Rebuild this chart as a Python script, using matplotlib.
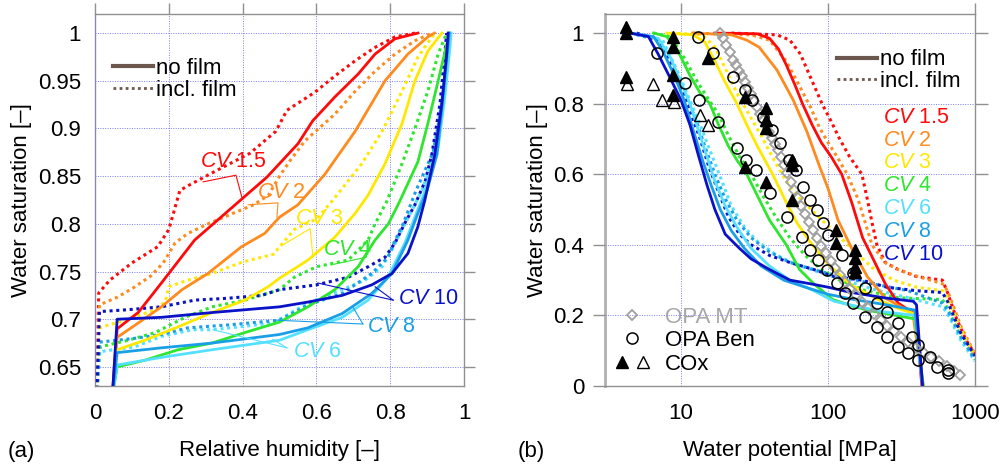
import matplotlib
matplotlib.use("Agg")
import matplotlib.pyplot as plt
from matplotlib.lines import Line2D
from matplotlib.legend_handler import HandlerTuple

plt.rcParams['font.family'] = ['Liberation Sans', 'DejaVu Sans']
plt.rcParams['mathtext.fontset'] = 'custom'
plt.rcParams['mathtext.rm'] = 'Liberation Sans'
plt.rcParams['mathtext.it'] = 'Liberation Sans:italic'

# ---- categories ----
cv_names = ['1.5', '2', '3', '4', '6', '8', '10']
cv_colors = ['#ff0a0a', '#ff8a1e', '#ffe800', '#2ee62e', '#55e0ff', '#1a9fe6', '#0a12c8']

# ---- panel (a): relative humidity vs saturation (no film / incl. film) ----
a_nf_15 = [(0.047, 0.62), (0.06, 0.69), (0.117, 0.707), (0.18, 0.738), (0.27, 0.783), (0.374, 0.818),
           (0.466, 0.849), (0.55, 0.884), (0.59, 0.908), (0.65, 0.933), (0.713, 0.957), (0.759, 0.978),
           (0.813, 0.994), (0.875, 1.0)]
a_fi_15 = [(0.005, 0.62), (0.01, 0.7275), (0.04, 0.741), (0.10, 0.759), (0.17, 0.776), (0.20, 0.794),
           (0.23, 0.835), (0.257, 0.841), (0.33, 0.856), (0.42, 0.874), (0.49, 0.897), (0.52, 0.919),
           (0.596, 0.938), (0.65, 0.955), (0.705, 0.971), (0.759, 0.985), (0.813, 0.996), (0.867, 1.0)]
a_nf_2 = [(0.047, 0.62), (0.06, 0.681), (0.117, 0.696), (0.18, 0.713), (0.236, 0.731), (0.306, 0.748),
          (0.397, 0.776), (0.46, 0.79), (0.50, 0.807), (0.55, 0.82), (0.623, 0.852), (0.705, 0.897),
          (0.786, 0.95), (0.848, 0.978), (0.902, 0.996), (0.92, 1.0)]
a_fi_2 = [(0.005, 0.62), (0.012, 0.715), (0.06, 0.723), (0.104, 0.733), (0.15, 0.745), (0.185, 0.759),
          (0.217, 0.78), (0.252, 0.79), (0.306, 0.80), (0.38, 0.812), (0.43, 0.82), (0.47, 0.83),
          (0.50, 0.85), (0.53, 0.867), (0.569, 0.887), (0.65, 0.915), (0.705, 0.939), (0.759, 0.96),
          (0.813, 0.978), (0.867, 0.992), (0.913, 1.0)]
a_nf_3 = [(0.047, 0.62), (0.06, 0.668), (0.135, 0.678), (0.225, 0.692), (0.317, 0.707), (0.406, 0.72),
          (0.469, 0.734), (0.50, 0.743), (0.577, 0.762), (0.65, 0.786), (0.705, 0.811), (0.74, 0.83),
          (0.786, 0.863), (0.832, 0.905), (0.867, 0.95), (0.902, 0.981), (0.94, 1.0)]
a_fi_3 = [(0.005, 0.62), (0.012, 0.691), (0.09, 0.70), (0.163, 0.71), (0.19, 0.718), (0.20, 0.734),
          (0.252, 0.741), (0.317, 0.748), (0.40, 0.76), (0.483, 0.768), (0.54, 0.794), (0.60, 0.805),
          (0.645, 0.825), (0.723, 0.863), (0.778, 0.897), (0.832, 0.939), (0.875, 0.975), (0.913, 0.996),
          (0.925, 1.0)]
a_nf_4 = [(0.047, 0.62), (0.06, 0.65), (0.135, 0.657), (0.225, 0.668), (0.317, 0.675), (0.406, 0.686),
          (0.50, 0.697), (0.577, 0.713), (0.65, 0.731), (0.713, 0.755), (0.759, 0.783), (0.795, 0.80),
          (0.825, 0.823), (0.875, 0.865), (0.902, 0.905), (0.93, 0.95), (0.953, 0.988), (0.962, 1.0)]
a_fi_4 = [(0.005, 0.62), (0.014, 0.671), (0.09, 0.678), (0.163, 0.686), (0.244, 0.702), (0.317, 0.713),
          (0.406, 0.72), (0.50, 0.731), (0.54, 0.744), (0.60, 0.755), (0.686, 0.762), (0.74, 0.783),
          (0.759, 0.80), (0.79, 0.823), (0.832, 0.863), (0.867, 0.90), (0.902, 0.939), (0.93, 0.978),
          (0.953, 1.0)]
a_nf_6 = [(0.047, 0.62), (0.06, 0.652), (0.18, 0.66), (0.317, 0.668), (0.50, 0.678), (0.577, 0.689),
          (0.67, 0.702), (0.74, 0.72), (0.794, 0.744), (0.84, 0.78), (0.867, 0.807), (0.89, 0.83),
          (0.93, 0.88), (0.948, 0.933), (0.962, 0.985), (0.965, 1.0)]
a_fi_6 = [(0.005, 0.62), (0.012, 0.666), (0.108, 0.671), (0.18, 0.682), (0.266, 0.689), (0.32, 0.689),
          (0.483, 0.696), (0.577, 0.717), (0.67, 0.731), (0.732, 0.741), (0.778, 0.755), (0.805, 0.773),
          (0.832, 0.794), (0.86, 0.815), (0.886, 0.835), (0.913, 0.865), (0.93, 0.905), (0.948, 0.95),
          (0.962, 1.0)]
a_nf_8 = [(0.047, 0.62), (0.06, 0.665), (0.18, 0.67), (0.317, 0.675), (0.50, 0.684), (0.577, 0.691),
          (0.67, 0.706), (0.75, 0.727), (0.805, 0.748), (0.848, 0.783), (0.875, 0.811), (0.90, 0.835),
          (0.927, 0.873), (0.943, 0.933), (0.957, 0.988), (0.96, 1.0)]
a_fi_8 = [(0.005, 0.62), (0.012, 0.676), (0.108, 0.68), (0.18, 0.684), (0.252, 0.691), (0.36, 0.694),
          (0.50, 0.699), (0.577, 0.715), (0.67, 0.727), (0.75, 0.748), (0.794, 0.765), (0.81, 0.78),
          (0.835, 0.80), (0.87, 0.835), (0.916, 0.875), (0.935, 0.91), (0.948, 0.95), (0.96, 1.0)]
a_nf_10 = [(0.047, 0.62), (0.06, 0.70), (0.18, 0.702), (0.317, 0.707), (0.50, 0.713), (0.577, 0.718),
           (0.67, 0.725), (0.75, 0.736), (0.805, 0.748), (0.848, 0.769), (0.875, 0.797), (0.894, 0.825),
           (0.921, 0.873), (0.94, 0.926), (0.953, 0.978), (0.957, 1.0)]
a_fi_10 = [(0.005, 0.62), (0.012, 0.708), (0.09, 0.71), (0.18, 0.713), (0.27, 0.72), (0.36, 0.722),
           (0.452, 0.725), (0.50, 0.731), (0.54, 0.733), (0.60, 0.736), (0.686, 0.744), (0.74, 0.755),
           (0.786, 0.765), (0.813, 0.78), (0.84, 0.801), (0.867, 0.82), (0.895, 0.845), (0.913, 0.873),
           (0.935, 0.926), (0.948, 0.978), (0.953, 1.0)]

# ---- panel (b): water potential [MPa] vs saturation ----
b_nf_15 = [(17, 1.0), (33, 0.998), (40, 0.985), (46, 0.955), (52, 0.91), (60, 0.85), (67, 0.80), (78, 0.74),
           (90, 0.69), (105, 0.65), (124, 0.60), (145, 0.52), (172, 0.42), (200, 0.365), (245, 0.29),
           (300, 0.235), (380, 0.207), (410, 0.12), (435, 0.0)]
b_fi_15 = [(22, 1.0), (45, 0.995), (55, 0.98), (65, 0.94), (75, 0.88), (91, 0.80), (105, 0.75), (120, 0.70),
           (140, 0.65), (170, 0.60), (185, 0.53), (200, 0.46), (215, 0.40), (245, 0.35), (300, 0.33),
           (400, 0.31), (600, 0.30), (650, 0.265), (750, 0.19), (870, 0.13), (1000, 0.09)]
b_nf_2 = [(12, 1.0), (22, 0.995), (28, 0.98), (34, 0.96), (45, 0.895), (58, 0.81), (72, 0.72), (88, 0.62),
          (100, 0.56), (117, 0.47), (145, 0.39), (185, 0.31), (244, 0.25), (378, 0.205), (410, 0.1), (445, 0.0)]
b_fi_2 = [(12, 1.0), (30, 0.995), (40, 0.98), (52, 0.92), (64, 0.85), (76, 0.79), (88, 0.73), (100, 0.69),
          (115, 0.65), (135, 0.60), (160, 0.53), (180, 0.46), (199, 0.40), (244, 0.35), (300, 0.33),
          (410, 0.31), (600, 0.29), (650, 0.27), (800, 0.17), (1000, 0.09)]
b_nf_3 = [(8, 1.0), (12, 0.995), (14.5, 0.975), (17, 0.92), (20, 0.86), (24, 0.80), (28, 0.74), (33, 0.68),
          (42, 0.60), (52, 0.52), (62, 0.46), (75, 0.41), (100, 0.345), (145, 0.285), (220, 0.245),
          (300, 0.22), (385, 0.205), (415, 0.1), (445, 0.0)]
b_fi_3 = [(8.5, 1.0), (14, 0.995), (17, 0.96), (20, 0.90), (24, 0.83), (29, 0.77), (35, 0.71), (43, 0.64),
          (52, 0.58), (65, 0.53), (86, 0.48), (115, 0.43), (145, 0.39), (200, 0.335), (280, 0.30),
          (400, 0.28), (600, 0.27), (650, 0.25), (800, 0.16), (1000, 0.085)]
b_nf_4 = [(6.5, 1.0), (8, 0.99), (9.5, 0.95), (11.5, 0.88), (13.5, 0.83), (15.7, 0.80), (18, 0.74), (21, 0.68),
          (24, 0.64), (28, 0.60), (33, 0.54), (40, 0.47), (52, 0.40), (64, 0.33), (80, 0.29), (108, 0.245),
          (150, 0.225), (200, 0.212), (290, 0.2), (390, 0.19), (415, 0.1), (445, 0.0)]
b_fi_4 = [(6.5, 1.0), (8.5, 0.99), (10.5, 0.93), (13, 0.86), (15.5, 0.81), (18, 0.77), (21, 0.71), (25, 0.65),
          (30, 0.60), (36, 0.54), (44, 0.48), (55, 0.42), (70, 0.37), (90, 0.33), (120, 0.30), (180, 0.27),
          (300, 0.25), (600, 0.245), (650, 0.22), (800, 0.14), (1000, 0.075)]
b_nf_6 = [(4.5, 1.0), (7, 0.985), (8.5, 0.93), (10, 0.86), (11.5, 0.80), (13, 0.73), (15, 0.65), (17, 0.58),
          (20, 0.51), (24, 0.45), (30, 0.39), (40, 0.34), (55, 0.30), (80, 0.27), (110, 0.24), (160, 0.225),
          (240, 0.21), (390, 0.2), (440, 0.0)]
b_fi_6 = [(4.5, 1.0), (7.5, 0.98), (9.5, 0.89), (11.5, 0.81), (13.5, 0.74), (16, 0.66), (19, 0.58), (22, 0.51),
          (27, 0.45), (33, 0.41), (45, 0.37), (60, 0.345), (90, 0.32), (130, 0.30), (200, 0.275), (350, 0.25),
          (600, 0.225), (650, 0.205), (800, 0.13), (1000, 0.07)]
b_nf_8 = [(4.5, 1.0), (6.5, 0.99), (7.5, 0.95), (9, 0.88), (10.5, 0.81), (12, 0.73), (14, 0.64), (16, 0.57),
          (18.5, 0.50), (22, 0.44), (27, 0.39), (35, 0.34), (50, 0.30), (70, 0.28), (100, 0.26), (150, 0.245),
          (250, 0.23), (390, 0.215), (440, 0.0)]
b_fi_8 = [(4.5, 1.0), (7, 0.98), (9, 0.89), (10.5, 0.83), (12.5, 0.76), (14.5, 0.68), (17, 0.60), (20, 0.53),
          (24, 0.47), (30, 0.42), (40, 0.38), (55, 0.35), (80, 0.33), (120, 0.31), (200, 0.29), (350, 0.27),
          (600, 0.235), (650, 0.215), (800, 0.14), (1000, 0.075)]
b_nf_10 = [(4.5, 1.0), (6, 0.99), (7, 0.94), (8.5, 0.87), (10, 0.81), (11.5, 0.74), (13, 0.66), (15, 0.57),
           (17, 0.50), (20, 0.43), (25, 0.39), (30, 0.36), (40, 0.33), (55, 0.30), (75, 0.29), (100, 0.28),
           (140, 0.266), (240, 0.25), (380, 0.24), (400, 0.23), (440, 0.0)]
b_fi_10 = [(5, 1.0), (7, 0.98), (8.5, 0.91), (10, 0.84), (11.5, 0.78), (13.5, 0.70), (15.5, 0.62), (18, 0.55),
           (21, 0.48), (25, 0.43), (30, 0.40), (40, 0.37), (55, 0.35), (80, 0.33), (110, 0.31), (170, 0.30),
           (250, 0.28), (400, 0.27), (600, 0.265), (650, 0.24), (800, 0.15), (1000, 0.085)]

# ---- measurements (panel b) ----
mt_psi = [18.4, 19.3, 20.3, 21.4, 22.5, 23.6, 24.8, 26.0, 27.3, 28.6, 30.0, 31.5, 33.0, 34.6, 36.3, 38.0,
          39.8, 41.7, 43.7, 45.8, 48.0, 50.5, 53, 56, 59, 62.5, 66, 70, 74, 79, 84, 90, 97, 104, 112, 121,
          131, 142, 155, 170, 187, 206, 228, 252, 280, 312, 350, 395, 445, 500, 565, 640, 720, 790]
mt_sat = [1.0, 0.985, 0.965, 0.945, 0.925, 0.91, 0.893, 0.877, 0.86, 0.845, 0.827, 0.808, 0.79, 0.772,
          0.755, 0.738, 0.72, 0.703, 0.686, 0.668, 0.648, 0.625, 0.603, 0.578, 0.556, 0.533, 0.51, 0.487,
          0.465, 0.442, 0.42, 0.398, 0.376, 0.355, 0.335, 0.315, 0.295, 0.276, 0.257, 0.238, 0.22, 0.203,
          0.186, 0.17, 0.155, 0.14, 0.124, 0.109, 0.095, 0.082, 0.07, 0.056, 0.042, 0.032]
ben_psi = [6.87, 10.6, 13.2, 17.9, 24.0, 27.7, 32.4, 40.3, 52.6, 66.5, 75.5, 85.5, 98.5, 115, 131, 148, 179,
           215, 252, 299, 350, 409,
           13.1, 16.5, 22.6, 27.3, 30.4, 36.1, 41.6, 47.1, 54.3, 60.6, 67.6, 75.5, 84.2, 92.4, 100, 124, 148,
           179, 215, 252, 299, 372, 409, 494, 551, 655, 655]
ben_sat = [0.943, 0.858, 0.81, 0.748, 0.674, 0.64, 0.612, 0.547, 0.479, 0.422, 0.385, 0.357, 0.329, 0.292,
           0.263, 0.235, 0.195, 0.167, 0.139, 0.11, 0.093, 0.074,
           0.989, 0.943, 0.875, 0.839, 0.81, 0.762, 0.725, 0.688, 0.64, 0.612, 0.564, 0.527, 0.499, 0.462,
           0.428, 0.371, 0.32, 0.278, 0.235, 0.21, 0.178, 0.139, 0.116, 0.082, 0.054, 0.045, 0.037]
cox_psi = [4.23, 4.23, 4.23, 8.83, 8.83, 8.83, 8.83, 15.3, 27.2, 27.2, 37.8, 37.8, 37.8, 37.8, 56.9, 56.9,
           56.9, 113, 113, 153, 153, 153, 153]
cox_sat = [1.017, 1.0, 0.875, 0.989, 0.96, 0.881, 0.824, 0.929, 0.819, 0.62, 0.788, 0.754, 0.731, 0.578,
           0.64, 0.625, 0.527, 0.442, 0.405, 0.385, 0.363, 0.337, 0.323]
cox2_psi = [4.3, 6.4, 7.4, 8.9, 13.5, 15.2]
cox2_sat = [0.857, 0.857, 0.81, 0.805, 0.768, 0.74]

a_nofilm = [a_nf_15, a_nf_2, a_nf_3, a_nf_4, a_nf_6, a_nf_8, a_nf_10]
a_film = [a_fi_15, a_fi_2, a_fi_3, a_fi_4, a_fi_6, a_fi_8, a_fi_10]
b_nofilm = [b_nf_15, b_nf_2, b_nf_3, b_nf_4, b_nf_6, b_nf_8, b_nf_10]
b_film = [b_fi_15, b_fi_2, b_fi_3, b_fi_4, b_fi_6, b_fi_8, b_fi_10]

# label positions / leader lines in panel (a), data coords
a_label_pos = [(0.285, 0.865), (0.439, 0.833), (0.542, 0.806), (0.618, 0.773),
               (0.537, 0.666), (0.737, 0.692), (0.821, 0.722)]
a_leaders = [
    [[(0.293, 0.844), (0.382, 0.851), (0.398, 0.828)]],
    [[(0.415, 0.82), (0.496, 0.822), (0.493, 0.807)]],
    [[(0.505, 0.777), (0.583, 0.795), (0.59, 0.768)]],
    [[(0.64, 0.757), (0.735, 0.765), (0.745, 0.785)]],
    [[(0.52, 0.67), (0.482, 0.679)], [(0.52, 0.67), (0.32, 0.689)]],
    [[(0.726, 0.695), (0.70, 0.712)], [(0.726, 0.695), (0.49, 0.699)]],
    [[(0.808, 0.72), (0.604, 0.738)], [(0.808, 0.72), (0.759, 0.734)]],
]

SOLID_LW = 2.0
DOT = dict(lw=2.2, linestyle=(0, (1, 1.2)), dash_capstyle='butt')
LEG_COLOR = '#6b574d'
GRID = dict(color='#7a7aee', lw=0.7, linestyle=(0, (1, 1.5)))
FS = 16
FS_CV = 15.5


def xy(pts):
    return [p[0] for p in pts], [p[1] for p in pts]


def style_axes(ax):
    for s in ax.spines.values():
        s.set_color('#909090')
        s.set_linewidth(1.0)
    ax.grid(True, **GRID)
    ax.set_axisbelow(False)


fig = plt.figure(figsize=(10.04, 4.70), dpi=100)
ax1 = fig.add_axes([95 / 1004, 84 / 470, 369 / 1004, 372 / 470])
ax2 = fig.add_axes([605 / 1004, 84 / 470, 370 / 1004, 372 / 470])

# ---------------- panel (a) ----------------
for i, c in enumerate(cv_colors):
    ax1.plot(*xy(a_film[i]), color=c, zorder=3, **DOT)
for i, c in enumerate(cv_colors):
    ax1.plot(*xy(a_nofilm[i]), color=c, lw=SOLID_LW, zorder=4, solid_joinstyle='round')
for i, c in enumerate(cv_colors):
    for seg in a_leaders[i]:
        ax1.plot(*xy(seg), color=c, lw=0.8, zorder=5)
    ax1.text(a_label_pos[i][0], a_label_pos[i][1], r'$\mathit{CV}$ ' + cv_names[i], color=c,
             fontsize=FS_CV, va='center', ha='left', zorder=6)

ax1.set_xlim(0, 1)
ax1.set_ylim(0.63, 1.02)
ax1.set_xticks([0, 0.2, 0.4, 0.6, 0.8, 1.0])
ax1.set_xticklabels(['0', '0.2', '0.4', '0.6', '0.8', '1'])
ax1.set_yticks([0.65, 0.7, 0.75, 0.8, 0.85, 0.9, 0.95, 1.0])
ax1.set_yticklabels(['0.65', '0.7', '0.75', '0.8', '0.85', '0.9', '0.95', '1'])
style_axes(ax1)
ax1.tick_params(axis='both', labelsize=FS, colors='#909090', labelcolor='black', direction='out',
                length=8, width=1, left=False, bottom=False, top=True, right=True)
ax1.tick_params(axis='y', pad=2)
ax1.tick_params(axis='x', pad=4)
ax1.set_xlabel('Relative humidity [–]', fontsize=FS, labelpad=12)
ax1.set_ylabel('Water saturation [–]', fontsize=FS, labelpad=4)

h_nf = Line2D([], [], color=LEG_COLOR, lw=3)
h_fi = Line2D([], [], color=LEG_COLOR, lw=2, linestyle=(0, (1, 1.2)))
ax1.legend([h_nf, h_fi], ['no film', 'incl. film'], loc='upper left', bbox_to_anchor=(0.048, 0.882),
           frameon=False, fontsize=FS, handlelength=1.8, handletextpad=0.15, borderpad=0,
           borderaxespad=0, labelspacing=0.05)

# ---------------- panel (b) ----------------
for i, c in enumerate(cv_colors):
    ax2.plot(*xy(b_film[i]), color=c, zorder=3, **DOT)
for i, c in enumerate(cv_colors):
    ax2.plot(*xy(b_nofilm[i]), color=c, lw=SOLID_LW, zorder=4)

ax2.plot(mt_psi, mt_sat, linestyle='none', marker='D', ms=5.5, mfc='none', mec='#a0a0a0', mew=1.3, zorder=6)
ax2.plot(ben_psi, ben_sat, linestyle='none', marker='o', ms=8, mfc='none', mec='black', mew=1.1, zorder=7)
ax2.plot(cox_psi, cox_sat, linestyle='none', marker='^', ms=9, mfc='black', mec='black', zorder=8)
ax2.plot(cox2_psi, cox2_sat, linestyle='none', marker='^', ms=8, mfc='none', mec='black', mew=1.0, zorder=8)

ax2.set_xscale('log')
ax2.set_xlim(3.04, 1000)
ax2.set_ylim(0, 1.054)
ax2.set_xticks([10, 100, 1000])
ax2.set_xticklabels(['10', '100', '1000'])
ax2.minorticks_off()
ax2.set_yticks([0, 0.2, 0.4, 0.6, 0.8, 1.0])
ax2.set_yticklabels(['0', '0.2', '0.4', '0.6', '0.8', '1'])
style_axes(ax2)
ax2.spines['left'].set_linewidth(2.0)
ax2.spines['left'].set_color('#b0b0b0')
ax2.tick_params(axis='both', labelsize=FS, colors='#909090', labelcolor='black', direction='out', width=1)
ax2.tick_params(axis='x', length=8, pad=4, bottom=False, top=True)
ax2.tick_params(axis='y', length=9, pad=6, right=True)
ax2.set_xlabel('Water potential [MPa]', fontsize=FS, labelpad=12)
ax2.set_ylabel('Water saturation [–]', fontsize=FS, labelpad=4)

leg1 = ax2.legend([h_nf, h_fi], ['no film', 'incl. film'], loc='upper left', bbox_to_anchor=(0.627, 0.905),
                  frameon=False, fontsize=FS, handlelength=1.8, handletextpad=0.15, borderpad=0,
                  borderaxespad=0, labelspacing=0.02)
ax2.add_artist(leg1)

cv_label_y = [0.722, 0.661, 0.600, 0.538, 0.476, 0.415, 0.353]
for i, c in enumerate(cv_colors):
    ax2.text(0.751, cv_label_y[i], r'$\mathit{CV}$ ' + cv_names[i], color=c, fontsize=FS_CV,
             va='center', ha='left', transform=ax2.transAxes)

m_mt = Line2D([], [], linestyle='none', marker='D', ms=5.5, mfc='none', mec='#a0a0a0', mew=1.3)
m_ben = Line2D([], [], linestyle='none', marker='o', ms=8, mfc='none', mec='black', mew=1.1)
m_cf = Line2D([], [], linestyle='none', marker='^', ms=9, mfc='black', mec='black')
m_co = Line2D([], [], linestyle='none', marker='^', ms=8, mfc='none', mec='black', mew=1.0)
leg2 = ax2.legend([m_mt, m_ben, (m_cf, m_co)], ['OPA MT', 'OPA Ben', 'COx'], loc='lower left',
                  bbox_to_anchor=(0.02, 0.03), frameon=False, fontsize=FS, handlelength=1.8,
                  handletextpad=0.55, borderpad=0, borderaxespad=0, labelspacing=0.12,
                  handler_map={tuple: HandlerTuple(ndivide=None, pad=0.15)})
leg2.get_texts()[0].set_color('#a6a6a6')

fig.text(8 / 1004, 1 - 452 / 470, '(a)', fontsize=FS, va='center', ha='left')
fig.text(518 / 1004, 1 - 452 / 470, '(b)', fontsize=FS, va='center', ha='left')

fig.savefig('out.png', dpi=100)
